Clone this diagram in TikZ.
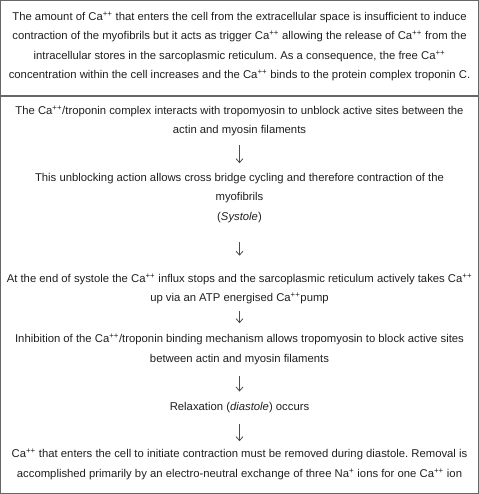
\documentclass[tikz,border=0pt]{standalone}
\usepackage{fontspec}
\setmainfont{Liberation Sans}
\usetikzlibrary{arrows.meta}
\newcommand{\Ca}{Ca\textsuperscript{++}}
\begin{document}
\frenchspacing
\begin{tikzpicture}[x=1bp,y=-1bp,
  txt/.style={align=center, inner sep=0pt, text=black!88,
    font=\fontsize{11.3bp}{19.3bp}\selectfont\frenchspacing},
  frame/.style={draw=black!60, line width=1.2bp},
  flow/.style={-{Straight Barb[length=4bp,width=7bp]}, line width=0.8bp, draw=black!70}]
\useasboundingbox (0,0) rectangle (479,494);
\draw[frame] (0.6,0.6) rectangle (478.4,493.4);
\draw[frame] (0,96) -- (479,96);
\node[txt] (b1) at (239.5,46.5) {The amount of \Ca{} that enters the cell from the extracellular space is insufficient to induce\\
contraction of the myofibrils but it acts as trigger \Ca{} allowing the release of \Ca{} from the\\
intracellular stores in the sarcoplasmic reticulum. As a consequence, the free \Ca\\
concentration within the cell increases and the \Ca{} binds to the protein complex troponin C.};
\node[txt] (b2) at (239.5,121) {The \Ca/troponin complex interacts with tropomyosin to unblock active sites between the\\
actin and myosin filaments};
\node[txt] (b3) at (239.5,198) {This unblocking action allows cross bridge cycling and therefore contraction of the\\
myofibrils\\
(\textit{Systole})};
\node[txt] (b4) at (239.5,289) {At the end of systole the \Ca{} influx stops and the sarcoplasmic reticulum actively takes \Ca\\
up via an ATP energised \Ca pump};
\node[txt] (b5) at (239.5,349.5) {Inhibition of the \Ca/troponin binding mechanism allows tropomyosin to block active sites\\
between actin and myosin filaments};
\node[txt] (b6) at (239.5,407.5) {Relaxation (\textit{diastole}) occurs};
\node[txt] (b7) at (239.5,464.5) {\Ca{} that enters the cell to initiate contraction must be removed during diastole. Removal is\\
accomplished primarily by an electro-neutral exchange of three Na\textsuperscript{+} ions for one \Ca{} ion};
\draw[flow, shorten <=9bp, shorten >=10bp] (b2.south) -- (b3.north);
\draw[flow, shorten <=19bp, shorten >=18bp] (b3.south) -- (b4.north);
\draw[flow, shorten <=6.5bp, shorten >=11bp] (b4.south) -- (b5.north);
\draw[flow, shorten <=11bp, shorten >=10.5bp] (b5.south) -- (b6.north);
\draw[flow, shorten <=11bp, shorten >=8bp] (b6.south) -- (b7.north);
\end{tikzpicture}
\end{document}
